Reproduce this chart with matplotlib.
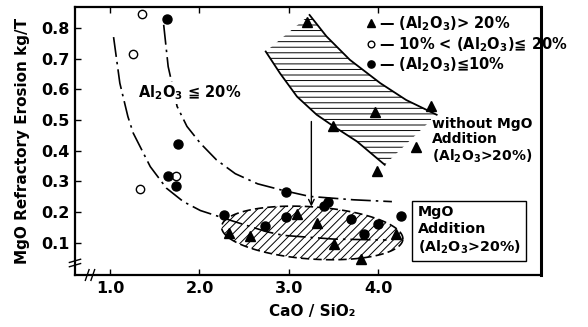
import numpy as np
import matplotlib
matplotlib.use("Agg")
import matplotlib.pyplot as plt
from matplotlib.patches import Polygon

plt.rcParams['font.family'] = ['DejaVu Sans']
plt.rcParams['font.weight'] = 'bold'
plt.rcParams['axes.labelweight'] = 'bold'
plt.rcParams['mathtext.fontset'] = 'custom'
plt.rcParams['mathtext.rm'] = 'DejaVu Sans:bold'
plt.rcParams['mathtext.default'] = 'rm'
plt.rcParams['hatch.linewidth'] = 0.7

# ---- data ----
# triangles: (Al2O3) > 20 %
tri_x = [3.20, 3.49, 3.96, 4.59, 4.42, 3.98,
         2.33, 2.56, 3.09, 3.31, 3.50, 3.81, 4.20]
tri_y = [0.820, 0.479, 0.527, 0.547, 0.411, 0.334,
         0.131, 0.123, 0.193, 0.164, 0.095, 0.047, 0.129]
# open circles: 10% < (Al2O3) <= 20%
open_x = [1.36, 1.26, 1.33, 1.74]
open_y = [0.846, 0.715, 0.276, 0.319]
# filled circles: (Al2O3) <= 10%
fill_x = [1.64, 1.76, 1.65, 1.74, 2.27, 2.97, 2.73, 2.97, 3.39, 3.44,
          3.69, 3.99, 3.84, 4.25]
fill_y = [0.830, 0.421, 0.319, 0.286, 0.191, 0.265, 0.156, 0.183, 0.220, 0.232,
          0.178, 0.160, 0.129, 0.188]

# dash-dot trend curves
curve1_x = [1.04, 1.11, 1.20, 1.26, 1.45, 1.63, 1.82, 2.01, 2.38, 2.75, 2.94, 3.50, 4.09]
curve1_y = [0.770, 0.620, 0.511, 0.457, 0.348, 0.278, 0.234, 0.205, 0.170, 0.136, 0.124, 0.112, 0.109]
curve2_x = [1.60, 1.65, 1.75, 1.86, 2.01, 2.19, 2.40, 2.65, 2.94, 3.23, 3.72, 4.15]
curve2_y = [0.810, 0.674, 0.544, 0.479, 0.424, 0.370, 0.325, 0.292, 0.270, 0.251, 0.240, 0.234]

# "without MgO addition" band
band_up_x = [3.23, 3.42, 3.68, 4.02, 4.31, 4.65]
band_up_y = [0.842, 0.772, 0.696, 0.620, 0.565, 0.517]
band_lo_x = [2.74, 2.90, 3.09, 3.31, 3.50, 3.76, 4.07]
band_lo_y = [0.723, 0.652, 0.576, 0.517, 0.479, 0.430, 0.354]

# "MgO addition" region (ellipse): centre, half-widths, tilt
ell_cx, ell_cy = 3.26, 0.132
ell_a, ell_b = 1.015, 0.085
ell_tilt_deg = -4.0

# arrow
arrow_x = 3.25
arrow_y_from, arrow_y_to = 0.495, 0.218

xticks = [1.0, 2.0, 3.0, 4.0]
yticks = [0.1, 0.2, 0.3, 0.4, 0.5, 0.6, 0.7, 0.8]

# ---- figure ----
W, H = 588, 327
fig = plt.figure(figsize=(W / 100, H / 100), dpi=100)
L, R, T, B = 75, 541, 7, 275
ax = fig.add_axes([L / W, 1 - B / H, (R - L) / W, (B - T) / H])
ax.set_xlim(0.609, 5.816)
ax.set_ylim(-0.005, 0.868)

# band
poly_pts = list(zip(band_lo_x, band_lo_y)) + list(zip(band_up_x[::-1], band_up_y[::-1]))
ax.add_patch(Polygon(poly_pts, closed=True, fill=False, hatch='---', lw=0, edgecolor='black'))
ax.plot(band_up_x, band_up_y, color='black', lw=1.3)
ax.plot(band_lo_x, band_lo_y, color='black', lw=1.3)

# ellipse region (tilt applied in screen-pixel units)
sx = (R - L) / (5.816 - 0.609)
sy = (B - T) / (0.868 + 0.005)
t = np.linspace(0, 2 * np.pi, 200)
th = np.deg2rad(ell_tilt_deg)
ax_px, bx_px = ell_a * sx, ell_b * sy
ex = ell_cx + (ax_px * np.cos(th) * np.cos(t) - bx_px * np.sin(th) * np.sin(t)) / sx
ey = ell_cy + (ax_px * np.sin(th) * np.cos(t) + bx_px * np.cos(th) * np.sin(t)) / sy
ax.add_patch(Polygon(np.column_stack([ex, ey]), closed=True, fill=False, hatch='////',
                     edgecolor='black', lw=1.2, linestyle=(0, (5, 2.5))))

# curves
dd = (0, (12, 3, 1.5, 3))
ax.plot(curve1_x, curve1_y, color='black', lw=1.2, linestyle=dd)
ax.plot(curve2_x, curve2_y, color='black', lw=1.2, linestyle=dd)

# arrow
ax.annotate('', xy=(arrow_x, arrow_y_to), xytext=(arrow_x, arrow_y_from),
            arrowprops=dict(arrowstyle='->', color='black', lw=1.0, shrinkA=0, shrinkB=0))

# points
h1, = ax.plot(tri_x, tri_y, '^', color='black', ms=6.5, ls='none')
h2, = ax.plot(open_x, open_y, 'o', mfc='white', mec='black', mew=1.0, ms=6, ls='none')
h3, = ax.plot(fill_x, fill_y, 'o', color='black', ms=6.5, ls='none')

leg = ax.legend([h1, h2, h3],
                ['— (Al$_2$O$_3$)> 20%', '— 10% < (Al$_2$O$_3$)≦ 20%', '— (Al$_2$O$_3$)≦10%'],
                loc='upper left', bbox_to_anchor=((356 - L) / (R - L), 1.01),
                frameon=False, handlelength=0.6, handletextpad=0.3, borderpad=0.2,
                labelspacing=0.12, fontsize=10.5, markerscale=0.8)

ax.text(1.31, 0.588, 'Al$_2$O$_3$ ≦ 20%', fontsize=10.5, ha='left', va='center',
        bbox=dict(fc='white', ec='none', pad=1.0))
ax.text(4.60, 0.51, 'without MgO\nAddition\n(Al$_2$O$_3$>20%)', fontsize=10, ha='left', va='top',
        linespacing=1.12, bbox=dict(fc='white', ec='none', pad=0.5))
ax.text(4.44, 0.222, 'MgO\nAddition\n(Al$_2$O$_3$>20%)', fontsize=10.3, ha='left', va='top',
        linespacing=1.2, bbox=dict(boxstyle='square,pad=0.4', fc='white', ec='black', lw=1.0))

# axes styling
ax.set_xticks(xticks)
ax.set_xticklabels([f'{v:.1f}' for v in xticks])
ax.set_yticks(yticks)
ax.set_yticklabels([f'{v:.1f}' for v in yticks])
ax.tick_params(axis='both', direction='in', length=4, width=1, labelsize=11.5, pad=4)
ax.tick_params(axis='x', top=True)
for s in ['left', 'bottom', 'top']:
    ax.spines[s].set_linewidth(1.6)
ax.spines['right'].set_linewidth(2.2)

ax.set_ylabel('MgO Refractory Erosion kg/T', fontsize=11)
ax.yaxis.set_label_coords(-0.097, 0.5)
ax.set_xlabel('CaO / SiO₂', fontsize=11)
ax.xaxis.set_label_coords(0.509, -0.11)

# axis break marks
brk = dict(color='black', lw=1.0, clip_on=False, transform=ax.transAxes)
yb = (B - 263) / (B - T)
for d in (-0.008, 0.008):
    ax.plot([-0.012, 0.012], [yb + d - 0.006, yb + d + 0.006], **brk)
xb = (90 - L) / (R - L)
for d in (-0.006, 0.006):
    ax.plot([xb + d - 0.004, xb + d + 0.004], [-0.02, 0.02], **brk)

fig.savefig('out.png', dpi=100)
